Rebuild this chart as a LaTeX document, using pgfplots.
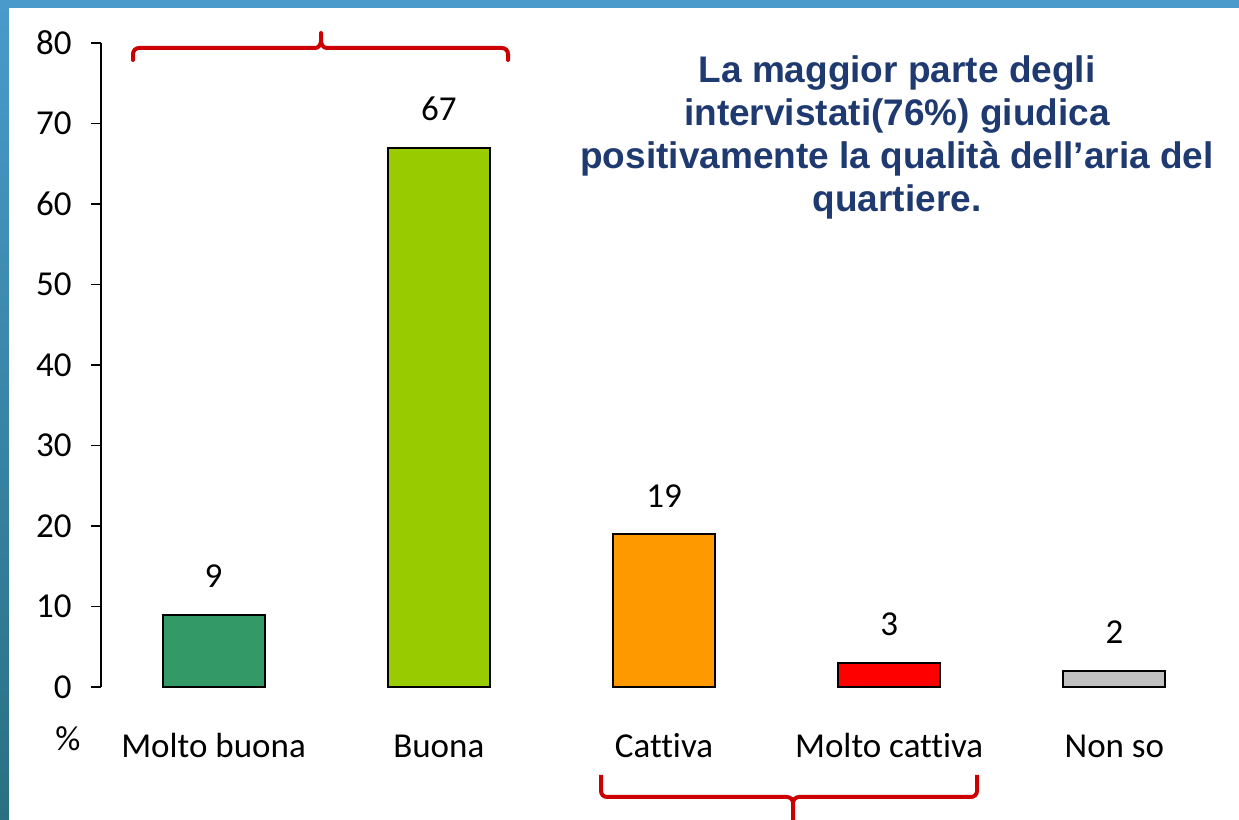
\documentclass[border=0pt]{standalone}
\usepackage{fontspec}
\setmainfont{Carlito}[Ligatures=NoCommon]
\newfontfamily\titlefont{Liberation Sans}
\usepackage{pgfplots}
\pgfplotsset{compat=1.18}
\definecolor{cMB}{HTML}{339966}
\definecolor{cB}{HTML}{99CC00}
\definecolor{cC}{HTML}{FF9900}
\definecolor{cMC}{HTML}{FF0000}
\definecolor{cNS}{HTML}{C0C0C0}
\definecolor{brace}{HTML}{CC0000}
\definecolor{navy}{HTML}{1F3A70}
\definecolor{bgtop}{HTML}{4A9ACB}
\definecolor{bgbot}{HTML}{2A7082}
\begin{document}
\begin{tikzpicture}[x=1pt,y=1pt]
\useasboundingbox (0,0) rectangle (619.5,410);
\shade[top color=bgtop, bottom color=bgbot] (0,0) rectangle (619.5,410);
\fill[white] (4.5,0) rectangle (619.5,406);
\begin{axis}[
  at={(50.5pt,66.5pt)}, anchor=south west,
  scale only axis, width=563pt, height=322pt,
  xmin=-0.5, xmax=4.5, ymin=0, ymax=80,
  ytick={0,10,...,80},
  xtick={0,1,2,3,4},
  xticklabels={Molto buona,Buona,Cattiva,Molto cattiva,Non so},
  axis lines=left,
  axis line style={-, line width=0.8pt, black},
  x axis line style={draw=none},
  xtick style={draw=none},
  ytick style={line width=0.8pt, black},
  tick align=outside,
  major tick length=5pt,
  /pgf/number format/assume math mode=true,
  tick label style={font=\fontsize{17.5}{20}\selectfont},
  yticklabel style={anchor=east, inner sep=0pt, xshift=-9.5pt},
  xticklabel style={anchor=base, inner sep=0pt, yshift=-30.5pt},
  ybar, bar width=51pt, bar shift=0pt,
  nodes near coords,
  nodes near coords style={font=\fontsize{17.5}{20}\selectfont, anchor=south, inner sep=0pt, yshift=13pt, black},
  clip=false,
]
\addplot[fill=cMB, draw=black, line width=1pt] coordinates {(0,9)};
\addplot[fill=cB, draw=black, line width=1pt] coordinates {(1,67)};
\addplot[fill=cC, draw=black, line width=1pt] coordinates {(2,19)};
\addplot[fill=cMC, draw=black, line width=1pt] coordinates {(3,3)};
\addplot[fill=cNS, draw=black, line width=1pt] coordinates {(4,2)};
\end{axis}
\node[anchor=base, font=\fontsize{17.5}{20}\selectfont, inner sep=0pt] at (34,34.5) {\%};
\node[anchor=north, align=center, inner sep=0pt, text=navy,
  font=\titlefont\bfseries\fontsize{18.5}{21.5}\selectfont] at (448.5,382.5)
  {La maggior parte degli\\intervistati(76\%) giudica\\positivamente la qualità dell’aria del\\quartiere.};
% braces
\draw[brace, line width=2pt, line cap=round, line join=round]
  (66.5,380) -- (66.5,383) to[out=90,in=180] (69.5,386) -- (157.5,386)
  to[out=0,in=270] (160.5,389.5) -- (160.5,393.5);
\draw[brace, line width=2pt, line cap=round, line join=round]
  (160.5,389.5) to[out=270,in=180] (163.5,386) -- (251,386)
  to[out=0,in=90] (254,383) -- (254,380);
\draw[brace, line width=2pt, line join=round]
  (300.5,22.5) -- (300.5,14.5) to[out=270,in=180] (303.5,11.5) -- (393.5,11.5)
  to[out=0,in=90] (396.5,8.5) -- (396.5,-1);
\draw[brace, line width=2pt, line join=round]
  (396.5,8.5) to[out=90,in=180] (399.5,11.5) -- (485.5,11.5)
  to[out=0,in=270] (488.5,14.5) -- (488.5,22.5);
\end{tikzpicture}
\end{document}
